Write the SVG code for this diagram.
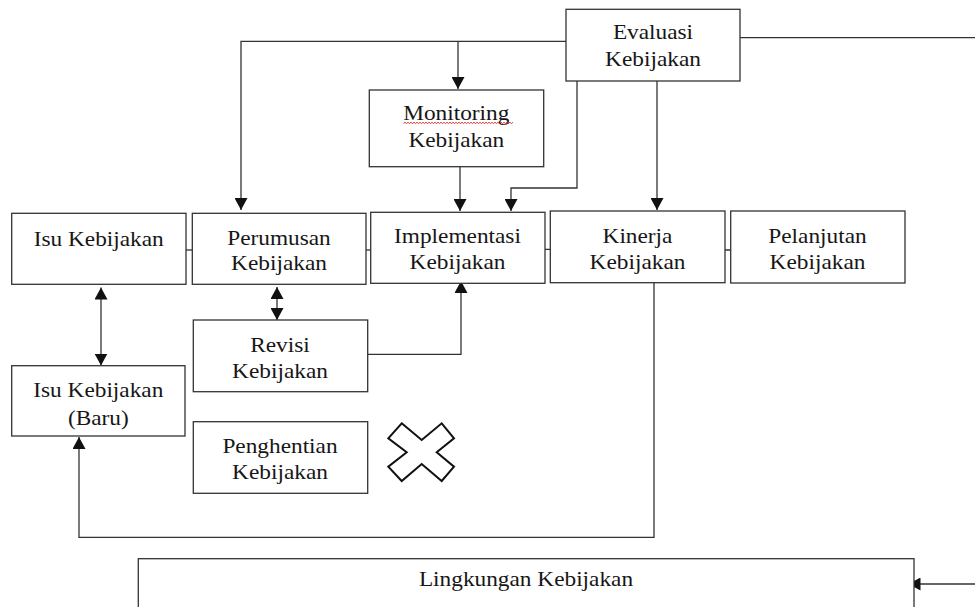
<svg xmlns="http://www.w3.org/2000/svg" width="975" height="607" viewBox="0 0 975 607">
  <style>
    .box { fill: #ffffff; stroke: #333333; stroke-width: 1.3; }
    .lbl { font-size: 21px; fill: #161616; text-anchor: middle; }
    .wire { fill: none; stroke: #333333; stroke-width: 1.3; }
    .arrow { marker-end: url(#head); }
    .both { marker-start: url(#head); marker-end: url(#head); }
    .stop { fill: #ffffff; stroke: #111111; stroke-width: 2; stroke-linejoin: miter; }
    .squiggle { fill: none; stroke: #d42020; stroke-width: 0.9; }
  </style>
  <defs>
    <marker id="head" markerUnits="userSpaceOnUse" markerWidth="13" markerHeight="13" refX="12" refY="6.5" orient="auto-start-reverse">
      <path d="M0,0 L12,6.5 L0,13 Z" fill="#111111"/>
    </marker>
  </defs>

  <rect width="975" height="607" fill="#ffffff"/>

  <!-- connectors -->
  <g id="connectors">
    <path class="wire arrow" d="M566,41.3 H241 V210"/>
    <path class="wire arrow" d="M458,41.3 V89"/>
    <path class="wire" d="M740,37.7 H975"/>
    <path class="wire arrow" d="M577,81 V188 H511 V211"/>
    <path class="wire arrow" d="M460,167 V211"/>
    <path class="wire arrow" d="M657,81 V210"/>
    <path class="wire arrow" d="M180,250 H208.5"/>
    <path class="wire arrow" d="M358,250 H388.5"/>
    <path class="wire arrow" d="M536,249.3 H570"/>
    <path class="wire arrow" d="M715,250 H750"/>
    <path class="wire both" d="M101,287.5 V365.5"/>
    <path class="wire both" d="M277,287 V320"/>
    <path class="wire arrow" d="M368,354.3 H461 V281"/>
    <path class="wire arrow" d="M654,283 V537.3 H79 V437"/>
    <path class="wire arrow" d="M975,584 H908.5"/>
  </g>

  <!-- nodes -->
  <g id="evaluasi">
    <rect class="box" x="566" y="9.3" width="174" height="71.7"/>
    <text class="lbl" font-family="Liberation Serif" x="653" y="39.3" textLength="80.2" lengthAdjust="spacingAndGlyphs">Evaluasi</text>
    <text class="lbl" font-family="Liberation Serif" x="653" y="66" textLength="95.8" lengthAdjust="spacingAndGlyphs">Kebijakan</text>
  </g>

  <g id="monitoring">
    <rect class="box" x="369.3" y="90" width="174.4" height="76.7"/>
    <text class="lbl" font-family="Liberation Serif" x="456.3" y="120" textLength="106.2" lengthAdjust="spacingAndGlyphs">Monitoring</text>
    <path class="squiggle" d="M403.5,123.5 l1.5,-1.2 1.5,1.2 1.5,-1.2 1.5,1.2 1.5,-1.2 1.5,1.2 1.5,-1.2 1.5,1.2 1.5,-1.2 1.5,1.2 1.5,-1.2 1.5,1.2 1.5,-1.2 1.5,1.2 1.5,-1.2 1.5,1.2 1.5,-1.2 1.5,1.2 1.5,-1.2 1.5,1.2 1.5,-1.2 1.5,1.2 1.5,-1.2 1.5,1.2 1.5,-1.2 1.5,1.2 1.5,-1.2 1.5,1.2 1.5,-1.2 1.5,1.2 1.5,-1.2 1.5,1.2 1.5,-1.2 1.5,1.2 1.5,-1.2 1.5,1.2 1.5,-1.2 1.5,1.2 1.5,-1.2 1.5,1.2 1.5,-1.2 1.5,1.2 1.5,-1.2 1.5,1.2 1.5,-1.2 1.5,1.2 1.5,-1.2 1.5,1.2 1.5,-1.2 1.5,1.2 1.5,-1.2 1.5,1.2 1.5,-1.2 1.5,1.2 1.5,-1.2 1.5,1.2 1.5,-1.2 1.5,1.2 1.5,-1.2 1.5,1.2 1.5,-1.2 1.5,1.2 1.5,-1.2 1.5,1.2 1.5,-1.2 1.5,1.2 1.5,-1.2 1.5,1.2 1.5,-1.2 1.5,1.2 1.5,-1.2 1.5,1.2 1.5,-1.2"/>
    <text class="lbl" font-family="Liberation Serif" x="456.3" y="147.3" textLength="95.8" lengthAdjust="spacingAndGlyphs">Kebijakan</text>
  </g>

  <g id="isu">
    <rect class="box" x="11.7" y="213.3" width="174.3" height="71"/>
    <text class="lbl" font-family="Liberation Serif" x="98.7" y="245.7" textLength="130" lengthAdjust="spacingAndGlyphs">Isu Kebijakan</text>
  </g>

  <g id="perumusan">
    <rect class="box" x="192.3" y="213.3" width="173.7" height="71"/>
    <text class="lbl" font-family="Liberation Serif" x="279" y="244.5" textLength="103.5" lengthAdjust="spacingAndGlyphs">Perumusan</text>
    <text class="lbl" font-family="Liberation Serif" x="279" y="269.5" textLength="95.8" lengthAdjust="spacingAndGlyphs">Kebijakan</text>
  </g>

  <g id="implementasi">
    <rect class="box" x="370.7" y="212.3" width="174.3" height="71"/>
    <text class="lbl" font-family="Liberation Serif" x="457.5" y="242.7" textLength="126.8" lengthAdjust="spacingAndGlyphs">Implementasi</text>
    <text class="lbl" font-family="Liberation Serif" x="457.5" y="269" textLength="95.8" lengthAdjust="spacingAndGlyphs">Kebijakan</text>
  </g>

  <g id="kinerja">
    <rect class="box" x="550.3" y="211" width="174.7" height="71.7"/>
    <text class="lbl" font-family="Liberation Serif" x="637.5" y="242.7" textLength="69.9" lengthAdjust="spacingAndGlyphs">Kinerja</text>
    <text class="lbl" font-family="Liberation Serif" x="637.5" y="269" textLength="95.8" lengthAdjust="spacingAndGlyphs">Kebijakan</text>
  </g>

  <g id="pelanjutan">
    <rect class="box" x="730.7" y="211" width="174.3" height="72"/>
    <text class="lbl" font-family="Liberation Serif" x="817.5" y="242.5" textLength="98.4" lengthAdjust="spacingAndGlyphs">Pelanjutan</text>
    <text class="lbl" font-family="Liberation Serif" x="817.5" y="269.3" textLength="95.8" lengthAdjust="spacingAndGlyphs">Kebijakan</text>
  </g>

  <g id="revisi">
    <rect class="box" x="193.3" y="320" width="174.4" height="71.7"/>
    <text class="lbl" font-family="Liberation Serif" x="280" y="351.7" textLength="59.6" lengthAdjust="spacingAndGlyphs">Revisi</text>
    <text class="lbl" font-family="Liberation Serif" x="280" y="377.7" textLength="95.8" lengthAdjust="spacingAndGlyphs">Kebijakan</text>
  </g>

  <g id="isu-baru">
    <rect class="box" x="11.7" y="365.7" width="173.3" height="70.3"/>
    <text class="lbl" font-family="Liberation Serif" x="98.3" y="396.7" textLength="130" lengthAdjust="spacingAndGlyphs">Isu Kebijakan</text>
    <text class="lbl" font-family="Liberation Serif" x="98.3" y="424.5" textLength="60.8" lengthAdjust="spacingAndGlyphs">(Baru)</text>
  </g>

  <g id="penghentian">
    <rect class="box" x="193.3" y="421.7" width="174.4" height="71.6"/>
    <text class="lbl" font-family="Liberation Serif" x="280" y="453.3" textLength="115.2" lengthAdjust="spacingAndGlyphs">Penghentian</text>
    <text class="lbl" font-family="Liberation Serif" x="280" y="479.3" textLength="95.8" lengthAdjust="spacingAndGlyphs">Kebijakan</text>
  </g>

  <!-- stop mark beside the termination box -->
  <g id="stop-mark">
    <polygon class="stop" points="401.7,423.3 421.7,440 441.7,423.3 454,438.3 436.7,452.3 454,466.7 441.7,481 421.7,464 401.7,481 388.3,466.7 406.7,452.3 388.3,438.3"/>
  </g>

  <g id="lingkungan">
    <rect class="box" x="138.3" y="558.7" width="775.7" height="60"/>
    <text class="lbl" font-family="Liberation Serif" x="526" y="585.7" textLength="214.2" lengthAdjust="spacingAndGlyphs">Lingkungan Kebijakan</text>
  </g>
</svg>
